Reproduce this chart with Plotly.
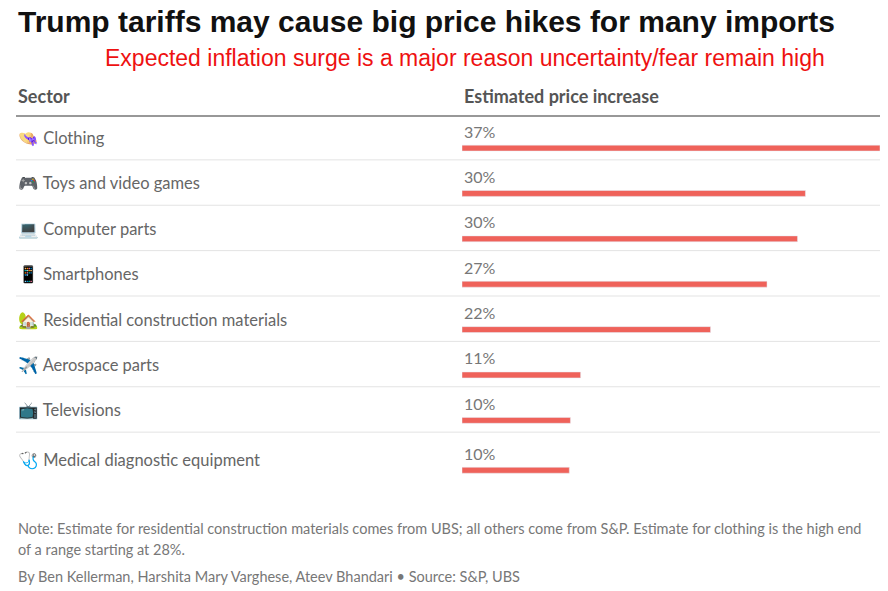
import plotly.graph_objects as go

sectors = ["Clothing", "Toys and video games", "Computer parts", "Smartphones",
           "Residential construction materials", "Aerospace parts", "Televisions",
           "Medical diagnostic equipment"]
icons = ["👒", "🎮", "💻", "📱", "🏡", "✈️", "📺", "🩺"]
values = [37.0, 30.4, 29.7, 27.0, 22.0, 10.5, 9.6, 9.5]
labels = ["37%", "30%", "30%", "27%", "22%", "11%", "10%", "10%"]

# page has an 8px body margin, so the figure is drawn 8px in from the corner
OFF = 8
W, H = 888 - OFF, 591 - OFF


def px(x):
    return (x - OFF) / W


def py(y):
    return 1 - (y - OFF) / H


ypos = list(range(len(sectors)))
ypos[-1] = 7.1  # last row sits slightly lower

fig = go.Figure(go.Bar(
    x=values, y=ypos, orientation="h", width=0.13,
    marker=dict(color="#ef625a"), hoverinfo="skip",
))

ann = []
shapes = []
font = "Lato, Noto Sans, sans-serif"
for i, (s, ic, lab) in enumerate(zip(sectors, icons, labels)):
    y = ypos[i]
    ann.append(dict(x=px(16), y=y, xref="paper", yref="y", xanchor="left", yanchor="middle",
                    yshift=10, text=f"{ic} {s}", showarrow=False,
                    font=dict(family=font, size=16.5, color="#666666")))
    ann.append(dict(x=0, y=y, xref="x", yref="y", xanchor="left", yanchor="middle",
                    yshift=17, text=lab, showarrow=False,
                    font=dict(family=font, size=16, color="#777777")))
    if i < len(sectors) - 1:
        shapes.append(dict(type="line", xref="paper", yref="y", x0=px(16), x1=1,
                           y0=y + 0.26, y1=y + 0.26, line=dict(color="#e3e3e3", width=1)))

top = dict(xref="paper", yref="paper", showarrow=False, xanchor="left", yanchor="middle")
ann += [
    dict(top, x=px(16), y=py(22), text="<b>Trump tariffs may cause big price hikes for many imports</b>",
         font=dict(family="Liberation Sans, Arial", size=30, color="#111111")),
    dict(top, x=px(465), y=py(58), xanchor="center",
         text="Expected inflation surge is a major reason uncertainty/fear remain high",
         font=dict(family="Liberation Sans, Arial", size=23, color="#ee1111")),
    dict(top, x=px(16), y=py(96), text="<b>Sector</b>",
         font=dict(family=font, size=18, color="#555555")),
    dict(top, x=px(462), y=py(96), text="<b>Estimated price increase</b>",
         font=dict(family=font, size=18, color="#555555")),
    dict(top, x=px(16), y=py(528),
         text="Note: Estimate for residential construction materials comes from UBS; all others come from S&P. Estimate for clothing is the high end",
         font=dict(family=font, size=14.5, color="#777777")),
    dict(top, x=px(16), y=py(549), text="of a range starting at 28%.",
         font=dict(family=font, size=14.5, color="#777777")),
    dict(top, x=px(16), y=py(576),
         text="By Ben Kellerman, Harshita Mary Varghese, Ateev Bhandari • Source: S&P, UBS",
         font=dict(family=font, size=14.5, color="#777777")),
]
shapes += [
    dict(type="line", xref="paper", yref="paper", x0=px(16), x1=1, y0=py(116), y1=py(116),
         line=dict(color="#333333", width=1.2)),
]

fig.update_layout(
    width=W, height=H, margin=dict(l=0, r=0, t=0, b=0),
    plot_bgcolor="white", paper_bgcolor="white", showlegend=False,
    xaxis=dict(domain=[px(462), px(880)], range=[0, 37], visible=False, fixedrange=True),
    yaxis=dict(range=[(591 - OFF - 150 + OFF) / 46 + OFF / 46, (OFF - 150) / 46], visible=False, fixedrange=True),
    annotations=ann, shapes=shapes,
)
fig.write_html("out.html")
